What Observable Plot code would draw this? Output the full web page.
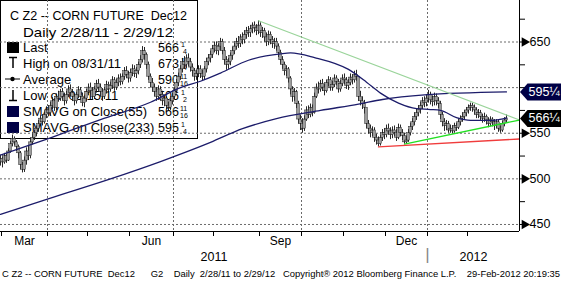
<!DOCTYPE html>
<html><head><meta charset="utf-8">
<script src="https://cdn.jsdelivr.net/npm/d3@7"></script>
<script src="https://cdn.jsdelivr.net/npm/@observablehq/plot@0.6"></script>
<style>
html,body{margin:0;padding:0;background:#fff;}
#wrap{position:relative;width:564px;height:281px;overflow:hidden;}
#legend{position:absolute;left:0;top:0;z-index:0;}
#chart{position:absolute;left:0;top:0;z-index:1;}
#chart svg{background:transparent !important;}
#footer{position:absolute;left:0;top:264px;z-index:2;}
text{white-space:pre;}
</style></head><body>
<div id="wrap"><svg id="legend" width="200" height="142"></svg><div id="chart"></div><svg id="footer" width="564" height="17"></svg></div>
<script>
// ---- daily bars (Dec12 corn), 2/28/11 .. 2/29/12, one value per trading day ----
const firstOpen = 518;
const closes = [
522,518,525,520,530,538,544,540,535,528,
515,510,520,530,525,540,545,550,555,560,
566,562,570,575,572,580,585,578,590,588,
595,590,585,592,598,594,590,585,592,597,
590,583,588,595,600,596,590,598,604,600,
595,590,597,603,598,602,608,600,605,610,
606,612,618,614,610,616,620,615,618,625,
630,640,636,625,612,605,600,595,590,598,
592,585,588,580,578,585,590,596,605,612,
620,628,625,632,628,622,618,612,615,620,
615,612,620,628,632,636,642,646,640,645,
650,640,630,625,628,635,640,645,650,648,
655,652,658,662,660,664,668,665,662,668,
660,662,655,650,658,652,648,650,645,638,
630,625,618,620,610,598,590,595,582,565,
560,555,565,575,570,578,572,590,600,598,
604,600,596,605,608,600,603,610,606,598,
604,610,608,602,605,611,608,614,612,590,
585,582,578,560,555,550,553,545,542,538,
545,550,548,555,552,548,553,550,545,556,
550,547,540,542,550,557,562,568,572,576,
580,585,583,588,592,586,584,590,585,582,
570,562,558,560,553,555,552,558,556,562,
566,568,572,575,578,580,578,575,570,572,
568,566,568,564,560,565,562,558,562,555,
553,560,564,566.25];
const highs = [
526,524,528,527,533,541,548,546,542,537,
530,518,524,534,536,543,549,553,558,564,
569,570,573,579,580,584,589,588,593,596,
598,599,594,596,602,603,598,593,595,601,
600,594,591,598,604,605,600,601,608,609,
604,599,600,607,606,606,612,611,609,614,
615,615,622,623,618,620,625,624,622,628,
635,645,644,638,628,615,610,604,600,602,
601,596,592,590,584,588,594,600,609,616,
624,632,634,636,637,632,626,621,619,624,
624,619,623,632,636,640,646,650,650,648,
654,653,644,634,632,638,644,649,654,656,
658,660,662,666,667,668,671,672,669,673.25,
671,666,665,660,662,661,656,654,654,648,
641,634,628,624,622,612,601,599,597,585,
570,566,569,579,580,582,581,594,604,606,
608,609,604,608,612,611,607,614,613,609,
608,614,615,611,609,615,614,618,619,608,
596,590,586,575,564,559,557,556,549,546,
548,554,555,559,560,556,557,558,554,560,
559,554,550,547,554,561,566,572,576,580,
584,589,590,592,597,595,591,594,593,589,
585,573,566,564,563,559,558,561,561,565,
569,572,575,578,581,583,583,581,578,576,
575,571,572,570,567,568,567,565,565,564,
558,563,567,570];
const lows = [
514,512,516,517,519,528,535,536,530,522,
510,506.5,507,515,520,522,537,542,546,551,
557,558,560,566,568,569,576,574,575,584,
585,586,580,582,589,590,585,580,582,588,
586,579,578,584,591,592,586,587,594,596,
590,585,587,593,594,595,598,596,597,601,
602,603,608,610,605,606,612,611,610,614,
621,627,630,620,608,600,595,590,585,586,
588,580,579,576,574,575,581,587,593,601,
608,616,620,621,623,617,612,607,608,611,
610,607,608,616,624,627,632,638,636,635,
640,636,625,619,620,624,630,636,641,643,
644,647,648,653,655,655,659,660,657,658,
655,654,650,645,646,647,643,642,640,633,
625,620,613,612,605,592,584,585,577,560,
553,550,552,563,566,567,568,571,588,593,
595,596,591,594,601,596,596,600,602,594,
595,601,603,598,597,602,603,605,607,585,
580,576,571,555,549,545,546,540,537,535,
536,541,543,545,548,543,544,546,541,543,
546,542,538,538,540,547,553,558,564,568,
571,576,578,579,583,581,579,580,580,577,
565,557,552,553,550,550,549.5,550,552,554,
558,562,565,568,571,574,573,570,566,566,
564,561,562,559,556,557,557,553,555,551,
550,551,557,561];

const sma55Idx = [0,25,50,75,90,100,110,124,140,145,157,174,183,190,199,208,215,220,228,235,245,253];
const sma55Val = [526,545,565,584,600,607,616,630,637,638,633,620,606,594,583,577,576,575,567,564,564,566.69];
const sma233Idx = [0,25,55,80,105,121,138,160,179,191,212,253];
const sma233Val = [461,479,500,519,540,555,566,575,582,587,592,595.25];

// ---- trend lines (trading-day index, price) ----
const resistIdx = [129,259.5], resistVal = [673.25,564.5];
const supportIdx = [202,259.5], supportVal = [538,564.5];
const lowLineIdx = [189,259.5], lowLineVal = [535,543.7];

// ---- axis labels ----
const yLabelTicks = [450,500,550,650];
const yMinorTicks = [450,475,500,525,550,575,600,625,650,675];
const monthNames = ["Mar","Jun","Sep","Dec"];
const yearNames = ["2011","2012"];
const tags = [{v:595.25, label:"595¼", fill:"#000046"},{v:566.25, label:"566¼", fill:"#000000"}];

// ---- legend ----
const titleText = "C Z2 -- CORN FUTURE  Dec12";
const subText = "Daily 2/28/11 - 2/29/12";
const legendLabels = ["Last","High on 08/31/11","Average","Low on 03/15/11","SMAVG on Close(55)","SMAVG on Close(233)"];
const legendWhole = ["566","673","590","506","566","595"];
const legendFrac = [["1","4"],["1","4"],["11","16"],["1","2"],["11","16"],["1","4"]];
const footerText = "C Z2 -- CORN FUTURE  Dec12      G2    Daily  2/28/11 to 2/29/12   Copyright® 2012 Bloomberg Finance L.P.    29-Feb-2012 20:19:35";

// trading calendar
const holidays = ["2011-04-22","2011-05-30","2011-07-04","2011-09-05","2011-11-24","2011-12-26","2012-01-02","2012-01-16","2012-02-20"];
const days = [];
for (let t = Date.UTC(2011,1,28); t <= Date.UTC(2012,1,29); t += 864e5) {
  const d = new Date(t), wd = d.getUTCDay(), s = d.toISOString().slice(0,10);
  if (wd > 0 && wd < 6 && !holidays.includes(s)) days.push(d);
}
const bars = closes.map((c,i) => ({i, date: days[i], open: i ? closes[i-1] : firstOpen, close: c, high: highs[i], low: lows[i]}));

// month boundaries
const starts = [];
for (let i = 1; i < days.length; i++) if (days[i].getUTCMonth() !== days[i-1].getUTCMonth()) starts.push({i, m: days[i].getUTCMonth(), y: days[i].getUTCFullYear()});
const xMax = 259.5;
const boundaries = starts.map(s => s.i - 0.5);
const monthShort = ["Jan","Feb","Mar","Apr","May","Jun","Jul","Aug","Sep","Oct","Nov","Dec"];
const monthLabels = [];
starts.forEach((s,k) => {
  const name = monthShort[s.m];
  if (monthNames.includes(name) && s.y === 2011) {
    const end = k+1 < starts.length ? starts[k+1].i - 0.5 : xMax;
    monthLabels.push({x: (s.i - 0.5 + end)/2, name});
  }
});
const gridX = starts.filter(s => [0,3,6,9].includes(s.m)).map(s => s.i - 0.5);
const janB = starts.find(s => s.m === 0).i - 0.5;
const yearLabels = [{x: janB/2, name: yearNames[0]}, {x: (janB + xMax)/2, name: yearNames[1]}];

const line = (idx, val) => idx.map((x,k) => ({x, y: val[k]}));
const yDom = [442.3, 695.5];

const tagSymbol = {draw(ctx){ctx.moveTo(-21.5,0);ctx.lineTo(-14,-8.5);ctx.lineTo(19.5,-8.5);ctx.lineTo(19.5,8.5);ctx.lineTo(-14,8.5);ctx.closePath();}};

const chart = Plot.plot({
  width: 564, height: 265,
  marginTop: 0, marginRight: 45, marginBottom: 34, marginLeft: 0,
  style: {fontFamily: "'Liberation Sans', Arial, sans-serif", background: "transparent"},
  x: {type: "linear", domain: [0, xMax], axis: null},
  y: {domain: yDom, axis: null},
  marks: [
    Plot.ruleY([450,500,550,600,650], {stroke: "#6a6a6a", strokeDasharray: "2,2", strokeWidth: 1}),
    Plot.ruleX(gridX, {stroke: "#6a6a6a", strokeDasharray: "2,2", strokeWidth: 1}),
    Plot.ruleX(bars, {x: "i", y1: "low", y2: "high", stroke: "#111", strokeWidth: 0.9}),
    Plot.rectY(bars, {x1: d => d.i - 0.65, x2: d => d.i + 0.65, y1: "open", y2: "close", fill: "#9c9c9c", stroke: "#111", strokeWidth: 0.45}),
    Plot.line(line(sma233Idx, sma233Val), {x: "x", y: "y", stroke: "#1c1c6a", strokeWidth: 1.3, curve: "monotone-x"}),
    Plot.line(line(sma55Idx, sma55Val), {x: "x", y: "y", stroke: "#1c1c6a", strokeWidth: 1.3, curve: "monotone-x"}),
    Plot.line(line(resistIdx, resistVal), {x: "x", y: "y", stroke: "#9ad49a", strokeWidth: 1.2}),
    Plot.line(line(supportIdx, supportVal), {x: "x", y: "y", stroke: "#22e022", strokeWidth: 1.3}),
    Plot.line(line(lowLineIdx, lowLineVal), {x: "x", y: "y", stroke: "#f03c3c", strokeWidth: 1.3}),
    Plot.ruleX([xMax], {stroke: "#000", strokeWidth: 1}),
    Plot.ruleY([yDom[0]], {stroke: "#000", strokeWidth: 1}),
    Plot.axisY({anchor: "right", ticks: yMinorTicks, tickSize: 5, tickFormat: () => "", stroke: "#000"}),
    Plot.dot(yLabelTicks, {x: () => xMax, y: d => d, dx: 5, symbol: "triangle", rotate: 90, r: 3.6, fill: "#000"}),
    Plot.text(yLabelTicks, {x: () => xMax, y: d => d, dx: 10, text: d => String(d), textAnchor: "start", fontSize: 12.5, fill: "#000"}),
    Plot.dot(tags, {x: () => xMax, y: "v", dx: 22, symbol: tagSymbol, fill: "fill", stroke: "none"}),
    Plot.text(tags, {x: () => xMax, y: "v", dx: 9, text: "label", textAnchor: "start", fontSize: 12.5, fill: "#fff"}),
    Plot.axisX({anchor: "bottom", ticks: boundaries, tickSize: 5, tickFormat: () => "", stroke: "#000"}),
    Plot.text(monthLabels, {x: "x", text: "name", frameAnchor: "bottom", dy: 13, fontSize: 12, fill: "#000"}),
    Plot.text(yearLabels, {x: "x", text: "name", frameAnchor: "bottom", dy: 29, fontSize: 12.5, fill: "#000"}),
    Plot.text([janB], {x: d => d, text: () => "|", frameAnchor: "bottom", dy: 28, fontSize: 17, fill: "#888"})
  ]
});
document.getElementById("chart").appendChild(chart);

// legend box (drawn underneath the chart, like the reference)
const NS = "http://www.w3.org/2000/svg";
const lg = document.getElementById("legend");
function el(tag, attrs, parent, txt) {
  const e = document.createElementNS(NS, tag);
  for (const k in attrs) e.setAttribute(k, attrs[k]);
  if (txt != null) e.textContent = txt;
  (parent || lg).appendChild(e);
  return e;
}
const FONT = "'Liberation Sans', Arial, sans-serif";
el("rect", {x: 0.5, y: 0.5, width: 197, height: 138, fill: "#fff", stroke: "#000"});
el("text", {x: 10, y: 20, "font-family": FONT, "font-size": 13.5, textLength: 177, lengthAdjust: "spacingAndGlyphs"}, null, titleText);
el("text", {x: 23, y: 37, "font-family": FONT, "font-size": 13.5, textLength: 150, lengthAdjust: "spacingAndGlyphs"}, null, subText);
const rowY = [47, 63, 79, 95, 111, 127];
legendLabels.forEach((lab, k) => {
  const cy = rowY[k];
  el("text", {x: 23, y: cy + 5, "font-family": FONT, "font-size": 13}, null, lab);
  el("text", {x: 158, y: cy + 5, "font-family": FONT, "font-size": 12.5}, null, legendWhole[k]);
  const [n, d] = legendFrac[k];
  const fx = 180;
  el("text", {x: fx + (n.length > 1 ? 0 : 1), y: cy - 0.5, "font-family": FONT, "font-size": 7}, null, n);
  el("text", {x: fx + (n.length > 1 ? 0 : 3), y: cy + 6.5, "font-family": FONT, "font-size": 7}, null, d);
});
// icons
el("rect", {x: 7, y: 42, width: 12, height: 11, fill: "#000"});
el("line", {x1: 9, x2: 17, y1: 57.5, y2: 57.5, stroke: "#000", "stroke-width": 1.5});
el("line", {x1: 13, x2: 13, y1: 57, y2: 68, stroke: "#000", "stroke-width": 1.5});
el("line", {x1: 5, x2: 20, y1: 79, y2: 79, stroke: "#000", "stroke-width": 1});
el("circle", {cx: 12.5, cy: 79, r: 2.2, fill: "#000"});
el("line", {x1: 9, x2: 17, y1: 100.5, y2: 100.5, stroke: "#000", "stroke-width": 1.5});
el("line", {x1: 13, x2: 13, y1: 90, y2: 100, stroke: "#000", "stroke-width": 1.5});
el("rect", {x: 7, y: 106, width: 12, height: 11, fill: "#000046"});
el("rect", {x: 7, y: 122, width: 12, height: 11, fill: "#000046"});

// footer
const ft = document.getElementById("footer");
el("text", {x: 2, y: 13, "font-family": "'Liberation Sans', Arial, sans-serif", "font-size": 9.5, textLength: 558, lengthAdjust: "spacingAndGlyphs"}, ft, footerText);

if (closes.length !== days.length || highs.length !== days.length || lows.length !== days.length) {
  el("text", {x: 250, y: 12, fill: "red", "font-size": 10}, ft, "len " + closes.length + "/" + highs.length + "/" + lows.length + " vs " + days.length);
}
</script>
</body></html>
